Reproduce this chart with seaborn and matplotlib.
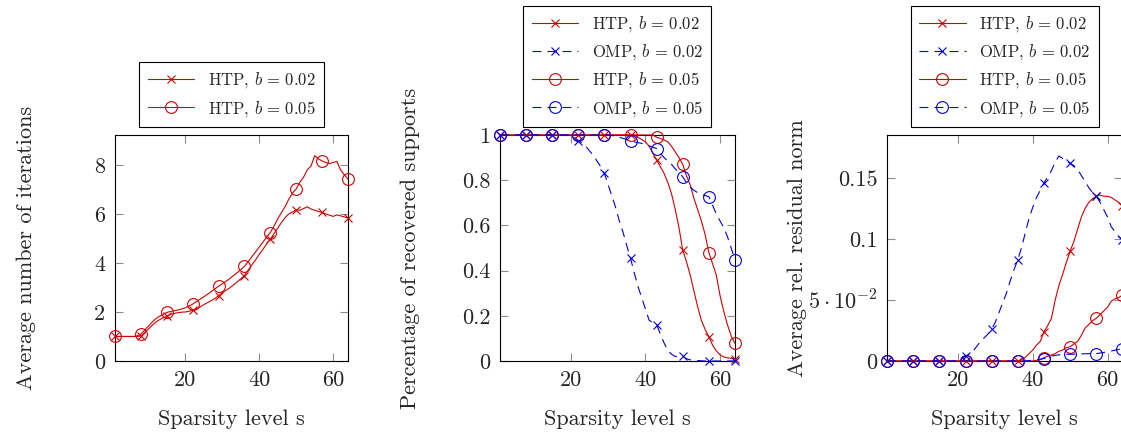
import numpy as np
import seaborn as sns
import matplotlib.pyplot as plt

sns.set_style('ticks')
plt.rcParams['font.family'] = ['cmr10', 'DejaVu Serif']
plt.rcParams['mathtext.fontset'] = 'cm'
plt.rcParams['axes.formatter.use_mathtext'] = True

# sparsity levels s = 1..64, markers every 7th sample
s = np.arange(1, 65)
mark_idx = [0, 7, 14, 21, 28, 35, 42, 49, 56, 63]

# average number of iterations (HTP)
iter_htp_002 = [1.0, 1.0, 1.0, 1.0, 1.0, 1.0, 1.0, 1.02,
                1.15, 1.3, 1.45, 1.58, 1.68, 1.76, 1.82,
                1.9, 1.94, 1.97, 1.99, 2.0, 2.03, 2.06,
                2.12, 2.2, 2.3, 2.38, 2.46, 2.55, 2.66,
                2.78, 2.88, 2.98, 3.1, 3.22, 3.35, 3.48,
                3.7, 3.92, 4.12, 4.35, 4.55, 4.78, 4.97,
                5.2, 5.42, 5.65, 5.85, 6.0, 6.08, 6.17,
                6.15, 6.22, 6.29, 6.2, 6.15, 6.1, 6.06,
                6.0, 5.95, 5.9, 5.96, 5.92, 5.88, 5.83]
iter_htp_005 = [1.0, 1.0, 1.0, 1.0, 1.0, 1.0, 1.02, 1.1,
                1.25, 1.42, 1.58, 1.72, 1.82, 1.9, 1.98,
                2.02, 2.05, 2.08, 2.12, 2.17, 2.24, 2.32,
                2.42, 2.52, 2.62, 2.72, 2.83, 2.94, 3.05,
                3.15, 3.25, 3.36, 3.48, 3.6, 3.72, 3.86,
                4.05, 4.25, 4.45, 4.65, 4.85, 5.05, 5.24,
                5.5, 5.8, 6.05, 6.3, 6.6, 6.85, 7.02,
                7.3, 7.5, 7.8, 7.95, 8.38, 8.25, 8.16,
                8.1, 8.05, 8.1, 8.14, 7.8, 7.6, 7.42]

# percentage of recovered supports
rec_htp_002 = [1.0] * 37 + [0.99, 0.98, 0.97, 0.95, 0.92, 0.89, 0.86, 0.83, 0.79,
                            0.74, 0.67, 0.59, 0.49, 0.44, 0.38, 0.31, 0.24, 0.18,
                            0.14, 0.108, 0.07, 0.045, 0.027, 0.018, 0.014, 0.012, 0.01]
rec_omp_002 = [1.0] * 19 + [0.995, 0.988, 0.975, 0.965, 0.95, 0.93, 0.91, 0.885, 0.86,
                            0.83, 0.78, 0.73, 0.68, 0.62, 0.57, 0.51, 0.455, 0.39,
                            0.33, 0.28, 0.23, 0.18, 0.17, 0.16, 0.12, 0.08, 0.045,
                            0.03, 0.02, 0.02, 0.02, 0.01, 0.005, 0.003, 0.002, 0.001,
                            0.0, 0.0, 0.0, 0.0, 0.0, 0.0, 0.0, 0.0, 0.0]
rec_htp_005 = [1.0] * 42 + [0.99, 0.985, 0.978, 0.97, 0.95, 0.925, 0.9, 0.87, 0.82,
                            0.78, 0.72, 0.67, 0.62, 0.56, 0.48, 0.43, 0.38, 0.29,
                            0.22, 0.16, 0.11, 0.078]
rec_omp_005 = [1.0] * 30 + [0.998, 0.995, 0.99, 0.985, 0.98, 0.973, 0.97, 0.966, 0.963,
                            0.958, 0.952, 0.946, 0.94, 0.92, 0.9, 0.885, 0.87, 0.85,
                            0.835, 0.815, 0.79, 0.77, 0.755, 0.745, 0.737, 0.732, 0.727,
                            0.69, 0.65, 0.62, 0.59, 0.55, 0.5, 0.447]

# average relative residual norm
res_htp_002 = [0.0] * 36 + [0.001, 0.003, 0.006, 0.009, 0.013, 0.016, 0.024, 0.029, 0.035,
                            0.05, 0.062, 0.071, 0.081, 0.09, 0.098, 0.108, 0.118, 0.125,
                            0.13, 0.133, 0.135, 0.136, 0.135, 0.135, 0.134, 0.132, 0.13,
                            0.127]
res_omp_002 = [0.0] * 19 + [0.0005, 0.002, 0.0038, 0.006, 0.008, 0.012, 0.016, 0.019, 0.022,
                            0.026, 0.032, 0.04, 0.048, 0.056, 0.066, 0.075, 0.083, 0.093,
                            0.105, 0.117, 0.126, 0.134, 0.14, 0.146, 0.151, 0.156, 0.163,
                            0.168, 0.166, 0.164, 0.162, 0.16, 0.157, 0.152, 0.147, 0.142,
                            0.138, 0.135, 0.13, 0.124, 0.118, 0.11, 0.106, 0.102, 0.0995]
res_htp_005 = [0.0] * 40 + [0.0005, 0.001, 0.0027, 0.004, 0.005, 0.006, 0.008, 0.009, 0.011,
                            0.0117, 0.014, 0.016, 0.021, 0.027, 0.03, 0.033, 0.035, 0.038,
                            0.041, 0.044, 0.049, 0.051, 0.052, 0.054]
res_omp_005 = [0.0] * 38 + [0.0003, 0.0007, 0.001, 0.0015, 0.002, 0.003, 0.004, 0.0046, 0.005,
                            0.0053, 0.0055, 0.0055, 0.0056, 0.0057, 0.0058, 0.0059, 0.006, 0.006,
                            0.006, 0.0065, 0.007, 0.0076, 0.0082, 0.0088, 0.0095, 0.0101]

RED = '#D00000'
BLUE = '#0000E0'
DASH = (0, (8, 5.5))

# legend labels
L_HTP2 = r'HTP, $b\,=\,0.02$'
L_OMP2 = r'OMP, $b\,=\,0.02$'
L_HTP5 = r'HTP, $b\,=\,0.05$'
L_OMP5 = r'OMP, $b\,=\,0.05$'

styles = {
    L_HTP2: dict(color=RED, marker='x', linestyle='-'),
    L_OMP2: dict(color=BLUE, marker='x', linestyle=DASH),
    L_HTP5: dict(color=RED, marker='o', linestyle='-'),
    L_OMP5: dict(color=BLUE, marker='o', linestyle=DASH),
}

fig = plt.figure(figsize=(11.21, 4.32), dpi=100)
bottom, height = 0.1644, 0.5231
ax1 = fig.add_axes([0.1026, bottom, 0.2078, height])
ax2 = fig.add_axes([0.4460, bottom, 0.2096, height])
ax3 = fig.add_axes([0.7913, bottom, 0.2100, height])

panels = [
    (ax1, [(L_HTP2, iter_htp_002), (L_HTP5, iter_htp_005)],
     'Average number of iterations', (0, 9.22), [0, 2, 4, 6, 8], ['0', '2', '4', '6', '8']),
    (ax2, [(L_HTP2, rec_htp_002), (L_OMP2, rec_omp_002),
           (L_HTP5, rec_htp_005), (L_OMP5, rec_omp_005)],
     'Percentage of recovered supports', (0, 1),
     [0, 0.2, 0.4, 0.6, 0.8, 1], ['0', '0.2', '0.4', '0.6', '0.8', '1']),
    (ax3, [(L_HTP2, res_htp_002), (L_OMP2, res_omp_002),
           (L_HTP5, res_htp_005), (L_OMP5, res_omp_005)],
     'Average rel. residual norm', (0, 0.1852),
     [0, 0.05, 0.1, 0.15], ['0', r'$5\cdot10^{-2}$', '0.1', '0.15']),
]

for ax, series, ylab, ylim, yticks, yticklabels in panels:
    for name, vals in series:
        st = styles[name]
        sns.lineplot(x=s, y=vals, ax=ax, color=st['color'], linestyle=st['linestyle'],
                     marker=st['marker'], markevery=mark_idx,
                     markersize=8.5 if st['marker'] == 'o' else 6,
                     mfc='none', mec=st['color'], mew=0.8, linewidth=0.8,
                     clip_on=False, label=name, zorder=3)
    ax.set_xlim(1, 64)
    ax.set_ylim(*ylim)
    ax.set_xticks([20, 40, 60])
    ax.set_xticklabels(['20', '40', '60'])
    ax.set_yticks(yticks)
    ax.set_yticklabels(yticklabels)
    ax.tick_params(direction='in', length=6, width=0.8, color='0.55', labelsize=16,
                   top=True, right=True, pad=7)
    for sp in ax.spines.values():
        sp.set_color('black')
        sp.set_linewidth(0.8)
    ax.set_xlabel('Sparsity level s', fontsize=16)
    ax.xaxis.set_label_coords(0.5, -0.215)
    ax.set_ylabel(ylab, fontsize=16)
    ax.yaxis.set_label_coords(-0.34, 0.5)
    leg = ax.legend(loc='lower center', bbox_to_anchor=(0.5, 1.035), fontsize=12,
                    frameon=True, fancybox=False, framealpha=1, edgecolor='black',
                    handlelength=2.8, labelspacing=0.5, borderpad=0.5, borderaxespad=0)
    leg.get_frame().set_linewidth(0.8)

fig.savefig('out.png', dpi=100)
